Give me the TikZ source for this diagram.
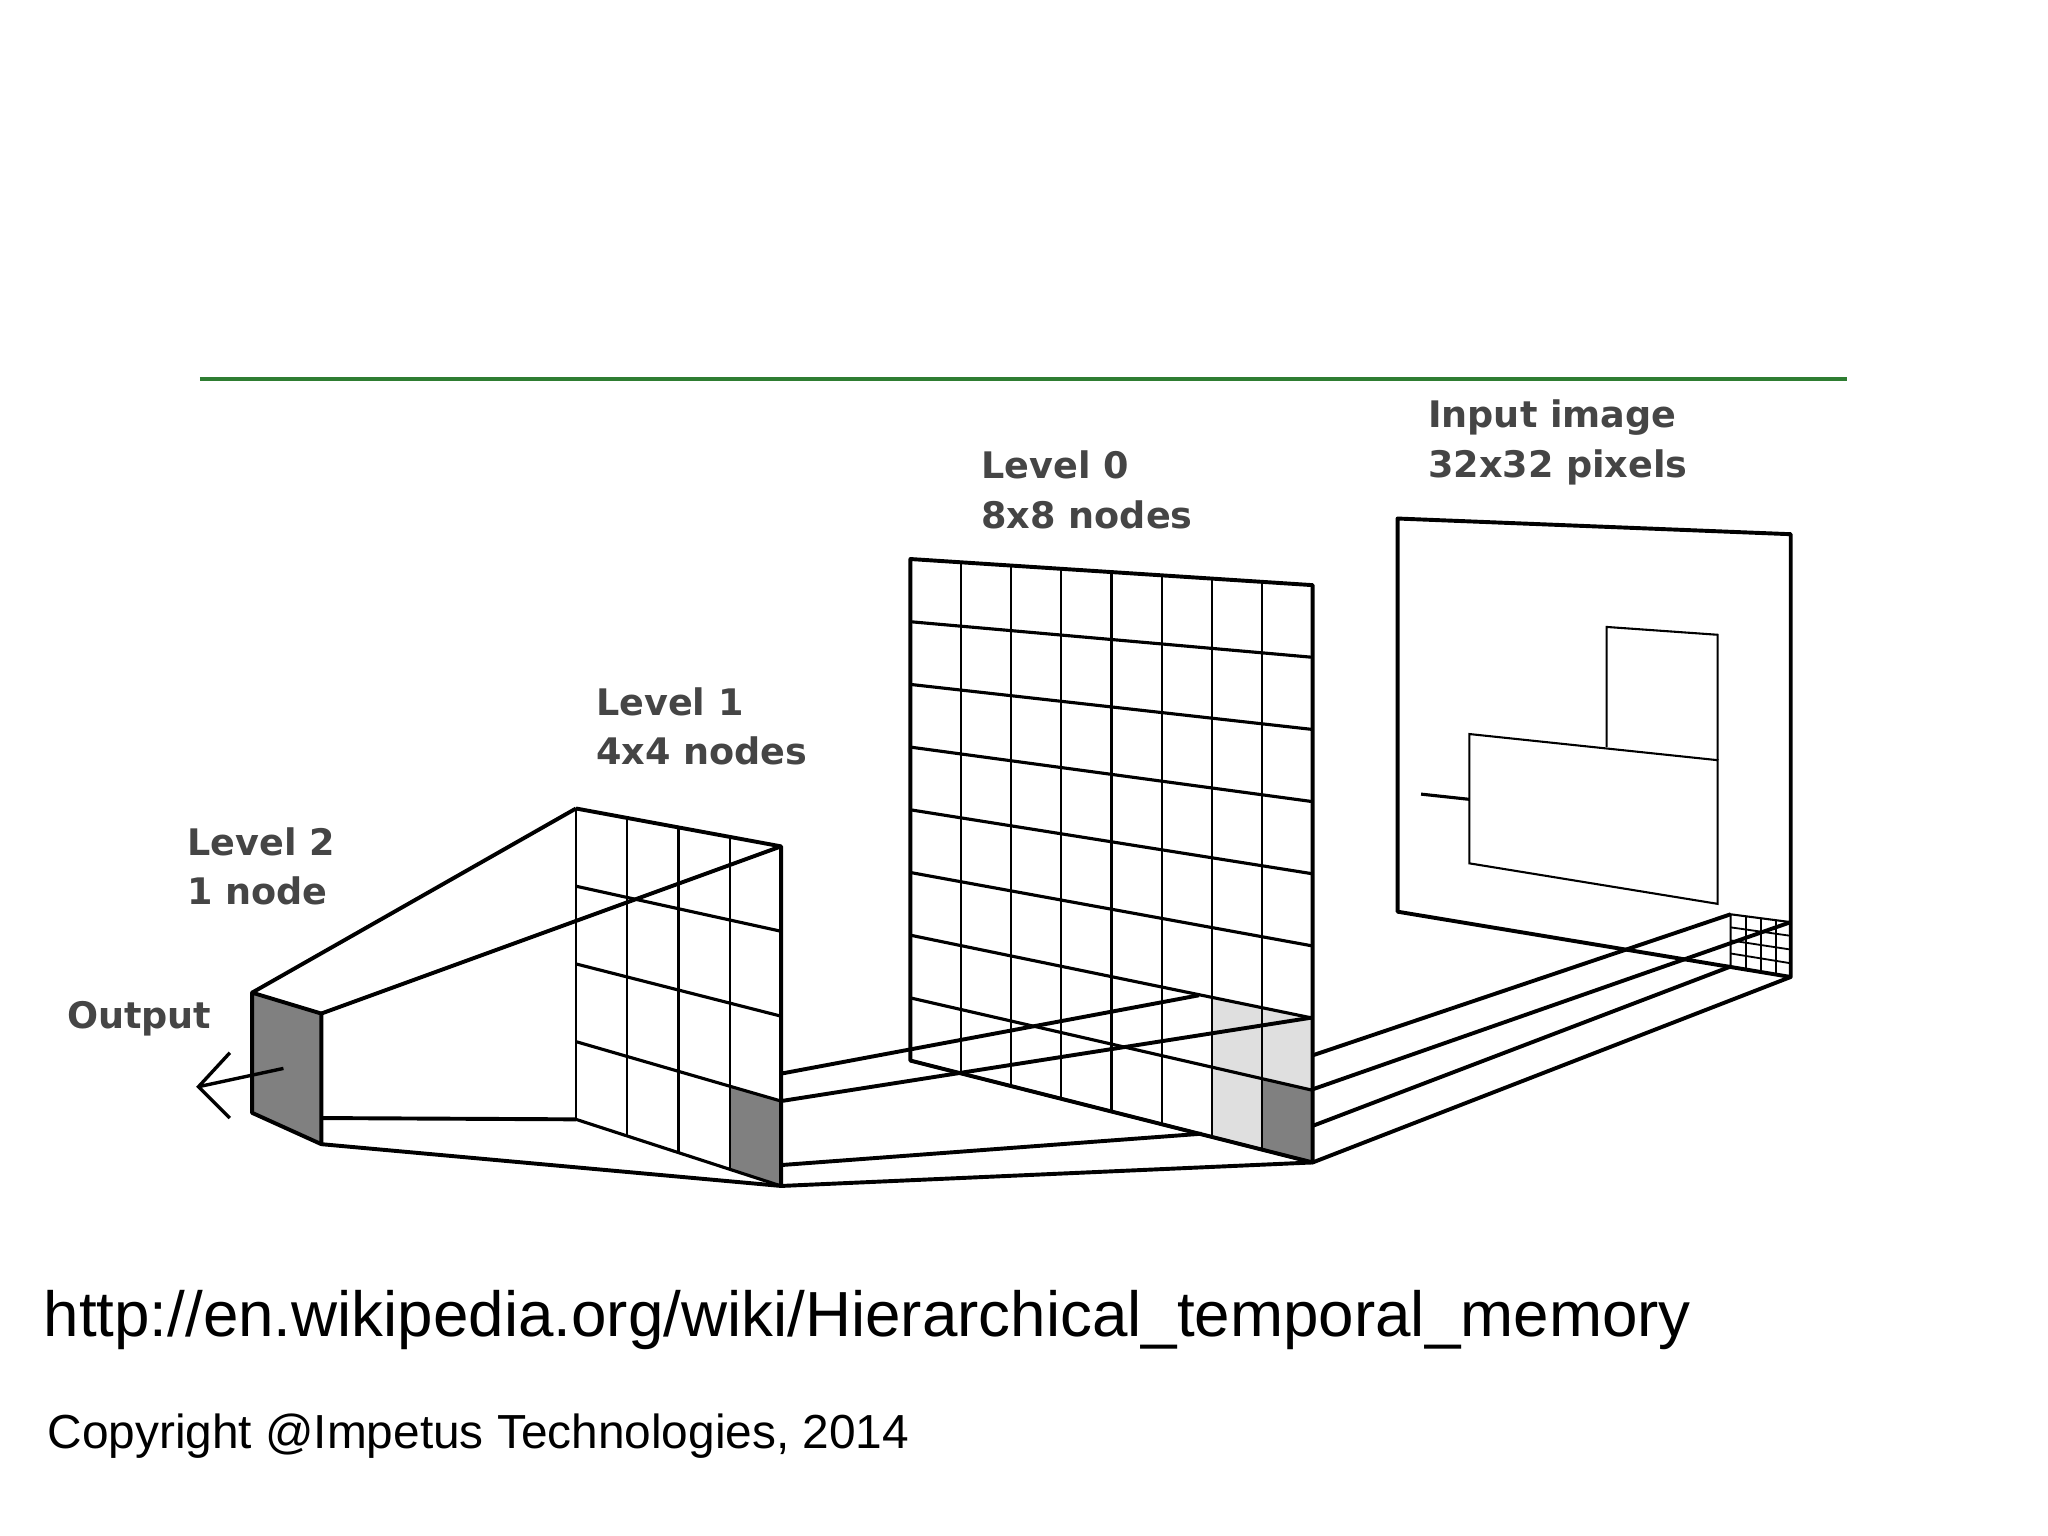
\documentclass[tikz,border=0pt]{standalone}
\usepackage{fontspec}
\setmainfont{Liberation Sans}
\newfontfamily\lblfont{DejaVu Sans}
\usetikzlibrary{calc}
\definecolor{lblgray}{HTML}{454545}
\definecolor{ruleg}{HTML}{2E7D32}
\tikzset{
  edge/.style={line width=1.5pt, line join=round},
  gridl/.style={line width=0.8pt},
  gridh/.style={line width=1.2pt},
  lbl/.style={font=\lblfont\bfseries\fontsize{14}{19}\selectfont, text=lblgray, align=left, anchor=north west, inner sep=0pt},
}
\newcommand{\qgrid}[5]{% TL TR BR BL n
  \foreach \i in {1,...,#5}{
    \pgfmathsetmacro{\t}{\i/#5}
    \draw[gridl] ($(#1)!\t!(#2)$) -- ($(#4)!\t!(#3)$);
    \draw[gridh] ($(#1)!\t!(#4)$) -- ($(#2)!\t!(#3)$);
  }}
\begin{document}
\begin{tikzpicture}[x=0.5pt,y=-0.5pt]
\useasboundingbox (0,0) rectangle (1568,1176);
\draw[ruleg, line width=1.4pt] (153,290) coordinate (ga) -- (1414,290) coordinate (gb);
% Input panel
\coordinate (iTL) at (1070,397); \coordinate (iTR) at (1371,409);
\coordinate (iBR) at (1371,748); \coordinate (iBL) at (1070,698);
\draw[edge] (iTL)--(iTR)--(iBR)--(iBL)--cycle;
\draw[gridl] (1125,562) coordinate (r1) -- (1315,582) coordinate (r2) -- (1315,692) coordinate (r3) -- (1125,661) coordinate (r4) -- cycle;
\draw[gridl] (1230,572) coordinate (s1) -- (1230,480) coordinate (s2) -- (1315,486) coordinate (s3) -- (r2);
\draw[line width=1.2pt] (1088,608) coordinate (p1) -- (1125,612) coordinate (p2);
\coordinate (gTL) at (1325,700); \coordinate (gTR) at (1371,706);
\coordinate (gBR) at (1371,748); \coordinate (gBL) at (1325,740);
\draw[gridl] (gTL)--(gTR)--(gBR)--(gBL)--cycle;
\begin{scope}[gridh/.style={line width=0.7pt}, gridl/.style={line width=0.7pt}]
\qgrid{gTL}{gTR}{gBR}{gBL}{4}
\end{scope}
% Level 0
\coordinate (zTL) at (697,428); \coordinate (zTR) at (1005,448);
\coordinate (zBR) at (1005,890); \coordinate (zBL) at (697,812);
\fill[gray!25] ($(zTL)!0.75!(zTR)!0.75!($(zBL)!0.75!(zBR)$)$) -- ($(zTR)!0.75!(zBR)$) -- (zBR) -- ($(zBL)!0.75!(zBR)$) -- cycle;
\fill[gray] ($(zTL)!0.875!(zTR)!0.875!($(zBL)!0.875!(zBR)$)$) -- ($(zTR)!0.875!(zBR)$) -- (zBR) -- ($(zBL)!0.875!(zBR)$) -- cycle;
\qgrid{zTL}{zTR}{zBR}{zBL}{8}
\draw[edge] (zTL)--(zTR)--(zBR)--(zBL)--cycle;
% Level 1
\coordinate (aTL) at (441,619); \coordinate (aTR) at (598,648);
\coordinate (aBR) at (598,908); \coordinate (aBL) at (441,857);
\fill[gray] ($(aTL)!0.75!(aTR)!0.75!($(aBL)!0.75!(aBR)$)$) -- ($(aTR)!0.75!(aBR)$) -- (aBR) -- ($(aBL)!0.75!(aBR)$) -- cycle;
\qgrid{aTL}{aTR}{aBR}{aBL}{4}
\draw[edge] (aTL)--(aTR)--(aBR);
\draw[gridl] (aTL)--(aBL);
% Level 2 box
\coordinate (bA) at (193,760); \coordinate (bB) at (246,776);
\coordinate (bC) at (246,876); \coordinate (bD) at (193,852);
\fill[gray] (bA)--(bB)--(bC)--(bD)--cycle;
\draw[edge] (bA)--(bB)--(bC)--(bD)--cycle;
% connectors L2-L1
\draw[edge] (bA)--(aTL);
\draw[edge] (bB)--(aTR);
\draw[edge] (246,856) coordinate (c1) -- (aBL);
\draw[edge] (bC)--(aBR);
% connectors L1-L0
\draw[edge] (598,822) coordinate (d1) -- (918,762) coordinate (d2);
\draw[edge] (598,843) coordinate (d3) -- (1005,779) coordinate (d4);
\draw[edge] (598,892) coordinate (d5) -- (920,868) coordinate (d6);
\draw[edge] (aBR)--(zBR);
% connectors L0-Input
\draw[edge] (1005,808) coordinate (e1) -- (gTL);
\draw[edge] (1005,834) coordinate (e2) -- (gTR);
\draw[edge] (1005,862) coordinate (e3) -- (gBL);
\draw[edge] (zBR)--(gBR);
% Output arrow
\draw[line width=1.3pt] (217,818) coordinate (o1) -- (152,832) coordinate (o2);
\draw[line width=1.3pt] (176,806) coordinate (o3) -- (o2) -- (176,856) coordinate (o4);
% labels
\node[lbl] (lin) at (1093,306) {Input image\\32x32 pixels};
\node[lbl] (l0) at (751,345) {Level 0\\8x8 nodes};
\node[lbl] (l1) at (456,526) {Level 1\\4x4 nodes};
\node[lbl] (l2) at (143,633) {Level 2\\1 node};
\node[lbl] (lo) at (51,766) {Output};
\node[anchor=base west, inner sep=0pt, font=\fontsize{24.4}{30}\selectfont] (url) at (33,1023) {http://en.wikipedia.org/wiki/Hierarchical\_temporal\_memory};
\node[anchor=base west, inner sep=0pt, font=\fontsize{18.3}{20}\selectfont] (copy) at (36,1109) {Copyright @Impetus Technologies, 2014};
\end{tikzpicture}
\end{document}
